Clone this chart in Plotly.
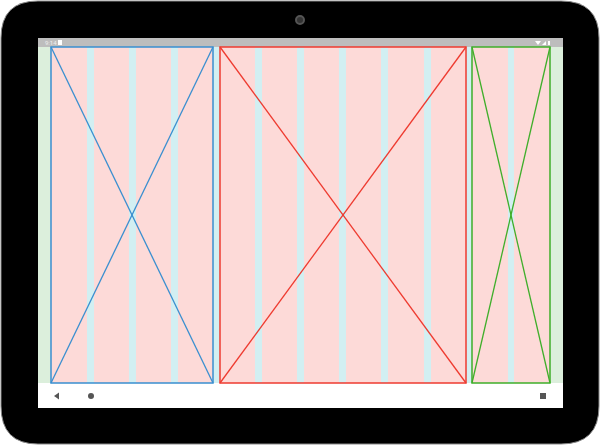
import plotly.graph_objects as go

# screen regions (pixel coords of the mockup)
screen = [38, 38, 563, 408]
status_h = 9
nav_top = 383
panels_x = [(51, 213), (220, 466), (472, 550)]
panel_colors = ["#3a8fd0", "#ee3b30", "#3fae2a"]
gutters_x = [(87, 94), (129, 136), (171, 178), (213, 220),
             (255, 262), (297, 304), (339, 346), (381, 388), (424, 431),
             (466, 472), (508, 514)]

fig = go.Figure()
shapes = []

# tablet body
r = 38
body = (f"M {r},1 L {599-r},1 Q 599,1 599,{r} L 599,{444-r} Q 599,444 {599-r},444 "
        f"L {r},444 Q 1,444 1,{444-r} L 1,{r} Q 1,1 {r},1 Z")
shapes.append(dict(type="path", path=body, fillcolor="black", line=dict(color="#888", width=1)))
x0, y0, x1, y1 = screen
shapes.append(dict(type="rect", x0=x0, y0=y0, x1=x1, y1=y1, fillcolor="#dcefdc", line_width=0))
shapes.append(dict(type="rect", x0=x0, y0=y0, x1=x1, y1=y0 + status_h, fillcolor="#bdbdbd", line_width=0))
shapes.append(dict(type="rect", x0=x0, y0=nav_top, x1=x1, y1=y1, fillcolor="white", line_width=0))

top = y0 + status_h
for (a, b) in panels_x:
    shapes.append(dict(type="rect", x0=a, y0=top, x1=b, y1=nav_top, fillcolor="#fddad8", line_width=0))
for (a, b) in gutters_x:
    shapes.append(dict(type="rect", x0=a, y0=top, x1=b, y1=nav_top, fillcolor="#d2eff2", line_width=0))
for (a, b), c in zip(panels_x, panel_colors):
    shapes.append(dict(type="rect", x0=a, y0=top, x1=b, y1=nav_top, line=dict(color=c, width=1.5)))
    shapes.append(dict(type="line", x0=a, y0=top, x1=b, y1=nav_top, line=dict(color=c, width=1.3)))
    shapes.append(dict(type="line", x0=b, y0=top, x1=a, y1=nav_top, line=dict(color=c, width=1.3)))

# camera, nav buttons
shapes.append(dict(type="circle", x0=296, y0=16, x1=304, y1=24, fillcolor="#333", line_color="#555"))
shapes.append(dict(type="path", path="M 54,396 L 59,392.5 L 59,399.5 Z", fillcolor="#555", line_width=0))
shapes.append(dict(type="circle", x0=88, y0=393, x1=94, y1=399, fillcolor="#555", line_width=0))
shapes.append(dict(type="rect", x0=540, y0=393, x1=546, y1=399, fillcolor="#555", line_width=0))
# status icons
shapes.append(dict(type="path", path="M 535,41 L 541,41 L 538,45 Z", fillcolor="white", line_width=0))
shapes.append(dict(type="path", path="M 542,45 L 546,41 L 546,45 Z", fillcolor="white", line_width=0))
shapes.append(dict(type="rect", x0=548, y0=41, x1=550, y1=45, fillcolor="white", line_width=0))
shapes.append(dict(type="rect", x0=58, y0=40, x1=62, y1=45, fillcolor="white", line_width=0))

fig.add_annotation(x=43, y=42.5, text="9:14", showarrow=False, xanchor="left",
                   font=dict(size=6, color="#eeeeee", family="Roboto"))

fig.update_layout(
    width=600, height=445, margin=dict(l=0, r=0, t=0, b=0),
    paper_bgcolor="white", plot_bgcolor="white", shapes=shapes, showlegend=False,
    xaxis=dict(range=[0, 600], visible=False, fixedrange=True),
    yaxis=dict(range=[445, 0], visible=False, fixedrange=True),
)
fig.write_html("out.html", config={"displayModeBar": False},
               post_script="document.body.style.margin='0';document.body.style.overflow='hidden';")
